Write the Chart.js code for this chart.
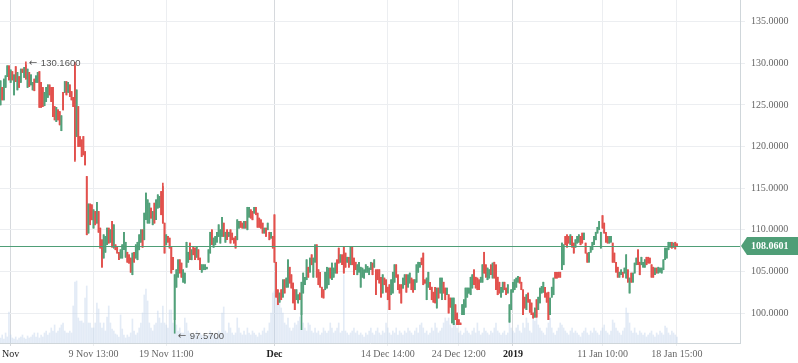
<!DOCTYPE html>
<html><head><meta charset="utf-8">
<script src="https://cdn.jsdelivr.net/npm/chart.js@4.4.1/dist/chart.umd.min.js"></script>
<style>html,body{margin:0;padding:0;background:#fff;}canvas{display:block;}</style>
</head><body>
<canvas id="c" width="798" height="363"></canvas>
<script>
const opens = [
125.0,127.1,125.6,127.1,128.4,129.7,127.7,129.0,126.2,129.6,126.8,128.4,127.7,129.3,128.3,129.8,127.1,128.9,127.4,126.8,
128.1,127.7,127.7,129.0,127.7,127.1,124.9,125.4,125.9,127.4,127.1,127.1,124.8,123.0,124.4,124.2,121.9,126.5,126.5,127.8,
126.5,127.4,126.6,125.9,129.7,121.2,124.8,121.2,120.8,121.2,119.4,116.4,109.6,113.1,113.0,110.2,112.2,110.8,112.2,110.2,
108.8,106.6,107.3,108.2,110.2,108.5,111.0,107.8,108.2,107.9,107.3,106.6,106.6,107.6,106.7,107.3,107.0,106.6,104.6,107.3,
106.6,106.4,107.6,108.5,110.0,108.8,111.2,110.8,110.8,112.6,110.6,113.2,111.2,112.6,112.7,114.6,115.2,110.8,108.2,109.2,
109.0,107.9,106.7,99.2,103.1,104.3,106.4,106.0,103.7,103.6,105.5,106.1,108.4,106.4,107.9,107.8,106.7,107.6,106.6,104.9,
105.2,105.2,105.3,106.1,107.2,110.0,107.9,108.2,108.5,109.2,108.4,109.2,110.8,108.5,110.0,109.2,110.0,109.6,109.0,109.2,
108.8,110.2,111.0,110.8,110.2,111.0,110.0,111.5,112.4,112.2,112.0,112.7,112.0,111.4,111.2,110.8,109.6,110.2,110.0,109.7,
109.0,109.2,111.8,106.1,102.8,101.3,102.8,101.9,104.0,103.1,103.1,105.5,104.6,103.6,102.8,101.6,101.2,102.4,99.8,102.4,
103.4,104.0,105.5,104.9,107.0,104.3,106.1,108.2,105.2,104.9,103.1,102.8,102.8,103.0,103.4,105.4,104.0,104.3,104.8,106.4,
107.8,106.1,107.0,107.9,107.2,106.1,106.7,105.8,107.9,106.6,106.1,104.6,104.9,103.1,104.3,104.2,104.9,104.9,104.6,105.2,
106.0,105.5,105.2,105.2,105.2,104.3,102.4,104.2,104.0,103.1,103.4,102.2,102.4,103.7,105.8,104.6,103.4,103.4,103.0,103.4,
104.6,103.1,103.6,104.2,104.0,102.8,103.7,104.9,105.5,106.6,107.2,104.0,101.6,103.1,103.7,103.1,102.5,103.1,100.6,103.0,
102.4,101.6,103.7,103.0,102.2,102.2,101.8,98.8,98.6,101.0,100.0,99.2,98.8,99.8,99.8,100.7,101.9,102.4,102.2,103.0,
105.2,104.3,104.2,104.0,103.7,103.7,107.3,105.8,104.0,104.2,105.8,104.2,106.1,105.8,104.3,103.7,101.9,102.5,103.7,103.0,
102.4,98.9,100.4,102.5,102.8,103.1,103.7,104.3,103.7,102.8,101.9,100.4,102.4,101.6,101.2,100.0,99.5,101.6,100.4,101.2,
102.4,102.5,103.1,102.4,102.5,99.8,101.9,102.2,104.9,104.9,104.9,104.9,105.2,105.8,109.2,109.4,109.2,108.2,109.2,108.4,
107.9,108.4,108.5,109.2,109.6,108.8,108.4,107.2,106.1,107.3,107.6,108.2,108.8,109.6,110.0,107.8,111.7,110.8,109.7,109.2,
108.4,108.5,108.4,107.2,106.1,105.5,104.3,104.6,104.9,104.8,104.2,105.2,102.4,104.8,103.7,104.8,105.8,107.6,106.1,105.8,
105.5,105.5,106.7,106.7,106.6,105.8,105.5,104.6,105.4,104.8,104.9,104.8,105.2,106.4,106.6,107.6,107.9,108.5,107.9,108.5,108.3
];
const highs = [
127.9,127.1,128.1,128.5,129.7,129.7,129.2,129.0,128.6,129.6,128.9,128.4,129.3,129.3,129.5,130.16,129.3,128.9,128.6,127.7,
128.1,128.5,128.9,129.0,127.7,127.1,126.5,127.1,127.4,127.4,127.1,127.1,124.8,124.7,124.4,124.2,123.7,126.5,127.8,127.8,
127.7,127.4,126.6,125.9,130.1,126.8,124.8,121.2,120.8,121.2,119.4,116.4,113.1,113.1,113.0,112.4,112.2,113.3,112.2,110.2,
108.8,109.4,109.2,110.2,110.2,110.0,111.0,110.6,108.2,107.9,107.3,107.6,108.2,109.7,108.5,107.3,107.0,106.6,107.2,107.3,
108.2,108.5,109.4,110.0,110.0,112.0,114.4,113.6,113.2,112.6,112.2,113.2,113.6,114.2,114.0,114.6,115.6,110.8,109.4,109.2,
109.0,107.9,106.7,104.6,105.2,106.4,106.4,106.0,105.2,104.8,108.5,107.3,108.4,107.6,107.9,107.8,107.9,107.6,106.6,105.8,
105.8,105.8,105.5,107.6,109.7,110.0,109.0,109.2,109.7,110.6,110.0,111.5,110.8,109.7,110.0,109.7,110.0,109.6,109.0,109.2,
111.2,111.0,111.0,110.8,111.0,111.0,112.7,112.7,112.4,112.2,112.7,112.7,112.0,111.4,111.2,110.8,110.2,110.2,110.8,109.7,
109.7,109.2,111.8,106.1,102.8,102.4,102.8,104.0,104.0,104.2,106.4,105.5,104.6,103.6,102.8,102.8,102.2,102.4,103.7,104.8,
104.3,106.4,105.5,106.6,107.0,106.6,108.2,108.2,105.2,104.9,103.1,102.8,104.9,105.5,105.4,105.4,106.0,105.4,106.0,106.4,
107.8,107.0,107.0,107.9,107.2,106.7,106.7,107.9,107.9,106.6,106.1,105.8,106.1,105.5,105.4,105.2,105.8,105.6,105.4,106.1,
106.0,106.4,105.2,105.2,105.2,104.3,104.6,104.2,104.0,103.1,103.4,104.0,104.9,105.8,105.8,104.6,103.4,103.4,104.2,104.6,
104.6,104.6,104.8,104.2,104.0,104.0,105.8,106.1,106.1,106.6,107.2,104.0,104.2,104.9,103.7,103.1,102.5,103.1,103.0,103.0,
104.2,104.2,103.7,103.0,103.0,102.2,101.8,101.8,101.8,101.0,100.0,99.2,98.8,101.0,101.6,103.0,103.0,103.0,104.3,104.6,
105.2,104.3,104.2,104.0,104.3,105.8,107.3,105.8,105.4,105.2,105.8,106.0,106.1,105.8,104.3,103.7,103.1,103.7,103.7,103.0,
103.4,101.0,102.8,103.7,104.0,104.2,104.4,104.3,103.7,102.8,101.9,102.2,102.4,101.6,101.2,100.0,100.6,101.6,101.9,103.0,
103.2,103.7,103.1,102.4,102.5,101.8,103.1,104.2,104.9,104.9,104.9,104.9,108.4,108.2,109.2,109.4,109.2,109.4,109.2,108.4,
108.8,109.2,109.4,109.2,109.6,109.6,108.4,107.2,107.3,107.9,108.5,109.2,109.7,110.3,111.0,109.7,111.7,110.8,109.7,109.2,
109.2,109.2,108.4,107.2,106.1,105.5,104.9,105.2,104.9,105.4,107.0,105.2,104.2,104.8,104.8,106.0,106.6,107.6,106.1,106.7,
106.1,106.4,106.7,106.7,106.6,105.8,105.5,105.4,105.4,105.5,105.4,105.4,106.4,107.8,107.8,108.5,108.5,108.5,108.4,108.5,108.3
];
const lows = [
125.0,125.6,125.6,127.1,128.4,128.0,127.7,128.0,126.2,127.8,126.8,127.1,127.7,128.9,128.3,128.1,127.1,127.2,127.4,126.8,
126.7,127.7,127.7,124.7,124.7,124.8,124.9,125.4,125.9,126.2,125.4,123.6,123.2,123.0,123.2,122.6,121.9,124.4,126.5,126.2,
126.5,126.0,125.6,124.8,118.2,121.2,120.0,120.0,118.8,119.0,117.8,109.4,109.6,110.6,111.2,110.2,110.6,110.8,109.7,107.8,
105.5,106.6,107.3,108.2,108.4,108.5,107.9,107.8,107.6,107.2,106.4,106.6,106.6,107.6,106.7,106.1,106.0,104.9,104.6,106.1,
106.6,106.4,107.6,108.5,107.9,108.8,111.2,110.8,110.8,111.4,110.6,110.8,111.2,112.6,112.7,111.8,110.8,107.2,108.2,108.5,
107.8,104.8,105.2,97.57,103.1,104.3,104.8,104.3,103.7,103.6,105.5,106.1,106.4,106.4,107.0,106.4,106.7,106.4,105.2,104.9,
105.2,105.2,105.3,106.1,107.2,108.2,107.9,108.2,108.5,109.2,108.4,109.2,109.2,108.5,108.8,109.2,108.4,108.8,108.4,107.8,
108.8,110.2,110.3,110.2,110.2,110.2,110.0,111.5,111.4,111.2,112.0,111.8,110.3,110.3,110.2,109.6,109.6,109.2,110.0,108.8,
109.0,107.8,106.1,101.9,101.0,101.3,101.6,101.9,102.4,103.1,103.1,103.6,103.0,101.2,100.4,101.6,101.2,101.6,98.0,102.4,
103.4,104.0,104.3,104.9,105.8,104.3,106.1,104.3,103.4,103.1,101.9,101.8,102.8,103.0,103.4,104.2,104.0,104.3,104.8,104.8,
106.0,106.1,105.8,104.8,105.5,106.1,105.5,105.8,105.8,104.6,105.2,104.6,104.9,103.1,104.3,104.2,104.9,104.9,104.6,105.2,
104.6,105.5,102.2,104.0,103.6,101.9,102.4,103.4,102.5,101.6,100.4,102.2,102.4,103.7,104.3,102.8,102.4,101.2,103.0,103.4,
102.5,103.1,103.6,102.8,102.5,102.8,103.7,104.9,105.5,105.8,103.4,103.6,101.6,103.1,102.8,101.6,101.3,101.2,100.6,101.8,
102.4,101.6,102.4,101.6,102.2,100.0,100.7,98.8,98.6,99.2,98.6,98.6,98.6,99.8,99.8,100.7,101.9,102.4,102.2,103.0,
103.4,103.0,102.8,102.8,103.7,103.7,104.8,104.3,104.0,104.2,104.6,104.2,104.2,102.8,102.2,102.4,101.9,102.5,102.8,102.2,
102.4,98.9,100.4,102.5,102.8,103.1,103.7,103.6,102.8,99.8,100.6,100.4,101.3,100.1,99.8,99.4,99.5,99.5,100.4,101.2,
102.4,102.5,101.9,101.3,99.2,99.8,101.9,102.2,104.2,104.2,104.3,104.3,105.2,105.8,108.2,107.9,108.4,108.2,107.9,107.2,
107.9,108.4,108.5,108.2,108.4,108.8,107.2,106.1,106.1,107.3,107.6,108.2,108.8,109.6,110.0,107.8,110.2,109.6,108.5,108.4,
108.4,108.5,106.1,106.1,104.9,104.3,104.3,104.6,104.3,104.8,104.2,103.7,102.4,103.7,103.7,104.8,105.8,105.8,104.6,105.8,
105.5,105.5,105.8,106.0,106.0,104.3,104.3,104.6,104.8,104.8,104.9,104.8,105.2,106.4,106.6,107.6,107.9,107.8,107.9,107.7,108.06
];
const closes = [
127.9,125.6,128.1,128.5,129.7,128.0,129.2,128.0,128.6,127.8,128.9,127.1,129.3,128.9,129.5,128.1,129.3,127.2,128.6,127.7,
126.7,128.5,128.9,124.7,124.7,124.8,126.5,127.1,127.4,126.2,125.4,123.6,123.2,124.7,123.2,122.6,123.7,124.4,127.8,126.2,
127.7,126.0,125.6,124.8,118.4,126.8,120.0,120.0,118.8,119.0,117.8,109.4,113.1,110.6,111.2,112.4,110.6,113.3,109.7,107.8,
105.5,109.4,109.2,110.2,108.4,110.0,107.9,110.6,107.6,107.2,106.4,107.6,108.2,109.7,108.5,106.1,106.0,104.9,107.2,106.1,
108.2,108.5,109.4,110.0,107.9,112.0,114.4,113.6,113.2,111.4,112.2,110.8,113.6,114.2,114.0,111.8,110.8,107.2,109.4,108.5,
107.8,104.8,105.2,104.6,105.2,106.4,104.8,104.3,105.2,104.8,108.5,107.3,106.4,107.6,107.0,106.4,107.9,106.4,105.2,105.8,
105.8,105.8,105.5,107.6,109.7,108.2,109.0,109.2,109.7,110.6,110.0,111.5,109.2,109.7,108.8,109.7,108.4,108.8,108.4,107.8,
111.2,111.0,110.3,110.2,111.0,110.2,112.7,112.7,111.4,111.2,112.7,111.8,110.3,110.3,110.2,109.6,110.2,109.2,110.8,108.8,
109.7,107.8,106.1,101.9,101.0,102.4,101.6,104.0,102.4,104.2,106.4,103.6,103.0,101.2,100.4,102.8,102.2,101.6,103.7,104.8,
104.3,106.4,104.3,106.6,105.8,106.6,108.2,104.3,103.4,103.1,101.9,101.8,104.9,105.5,105.4,104.2,106.0,105.4,106.0,104.8,
106.0,107.0,105.8,104.8,105.5,106.7,105.5,107.9,105.8,104.6,105.2,105.8,106.1,105.5,105.4,105.2,105.8,105.6,105.4,106.1,
104.6,106.4,102.2,104.0,103.6,101.9,104.6,103.4,102.5,101.6,100.4,104.0,104.9,105.8,104.3,102.8,102.4,101.2,104.2,104.6,
102.5,104.6,104.8,102.8,102.5,104.0,105.8,106.1,106.1,105.8,103.4,103.6,104.2,104.9,102.8,101.6,101.3,101.2,103.0,101.8,
104.2,104.2,102.4,101.6,103.0,100.0,100.7,101.8,101.8,99.2,98.6,98.6,98.6,101.0,101.6,103.0,103.0,103.0,104.3,104.6,
103.4,103.0,102.8,102.8,104.3,105.8,104.8,104.3,105.4,105.2,104.6,106.0,104.2,102.8,102.2,102.4,103.1,103.7,102.8,102.2,
103.4,101.0,102.8,103.7,104.0,104.2,104.4,103.6,102.8,99.8,100.6,102.2,101.3,100.1,99.8,99.4,100.6,99.5,101.9,103.0,
103.2,103.7,101.9,101.3,99.2,101.8,103.1,104.2,104.2,104.2,104.3,104.3,108.4,108.2,108.2,107.9,108.4,109.4,107.9,107.2,
108.8,109.2,109.4,108.2,108.4,109.6,107.2,106.1,107.3,107.9,108.5,109.2,109.7,110.3,111.0,109.7,110.2,109.6,108.5,108.4,
109.2,109.2,106.1,106.1,104.9,104.3,104.9,105.2,104.3,105.4,107.0,103.7,104.2,103.7,104.8,106.0,106.6,105.8,104.6,106.7,
106.1,106.4,105.8,106.0,106.0,104.3,104.3,105.4,104.8,105.5,105.4,105.4,106.4,107.8,107.8,108.5,108.5,107.8,108.4,107.7,108.06
];
const volumes = [
5,8,4,10,6,31,8,5,4,6,3,5,6,8,5,4,7,5,6,8,
10,6,10,5,8,6,10,12,8,10,15,12,18,10,12,15,18,20,12,10,
10,12,10,37,61,62,25,22,22,20,45,57,20,20,15,15,20,40,34,20,
15,20,12,26,37,20,14,12,9,8,6,28,14,8,5,8,6,10,24,12,
8,10,15,20,30,48,54,42,20,15,12,18,20,32,25,20,37,20,18,15,
33,33,20,25,18,12,15,10,10,25,20,12,10,8,10,8,12,6,10,8,
6,8,5,8,12,10,8,10,6,12,10,30,36,12,10,20,15,10,8,10,
25,15,10,8,12,8,15,10,8,12,10,8,6,10,8,12,15,10,12,20,
30,50,52,45,47,45,35,30,20,18,25,15,12,15,20,18,22,26,30,20,
15,12,20,18,12,10,15,10,12,8,10,15,12,10,12,20,15,10,12,15,
20,10,12,68,12,10,8,10,12,15,10,12,8,10,8,6,10,8,12,15,
10,8,12,15,10,8,12,10,20,15,10,8,12,10,15,8,12,10,8,12,
10,15,12,10,8,12,15,10,18,20,15,10,12,8,10,15,12,20,15,10,
12,15,20,25,22,25,18,15,30,20,15,10,12,8,10,15,12,10,8,12,
15,10,20,12,8,10,15,12,10,8,12,10,15,20,12,10,8,10,12,8,
10,25,15,12,10,15,18,12,10,20,15,25,20,12,10,31,22,25,18,15,
12,10,8,15,20,25,15,10,8,12,15,20,18,15,12,10,8,12,15,10,
12,10,8,6,10,12,15,10,8,12,10,15,12,10,8,12,15,18,12,10,
8,12,23,20,15,12,10,8,12,15,35,30,20,12,10,15,10,8,12,10,
8,10,6,8,10,12,8,6,10,8,12,10,8,17,15,10,8,12,10,8,6
];
const tickIndex = [6, 55, 98, 162, 229, 271, 303, 356, 400];
const tickLabels = ['Nov', '9 Nov 13:00', '19 Nov 11:00', 'Dec', '14 Dec 14:00', '24 Dec 12:00', '2019', '11 Jan 10:00', '18 Jan 15:00'];
const majorLabels = ['Nov', 'Dec', '2019'];
const priceTicks = [100, 105, 110, 115, 120, 125, 130, 135];
const lastPrice = 108.0601;

const UP = '#52a17a', DOWN = '#e2514d', LINE = '#4f9e77';
const n = opens.length;
const idx = Array.from({length: n}, (_, i) => i);
const candleColors = idx.map(i => closes[i] >= opens[i] ? UP : DOWN);
const isMajor = i => majorLabels.includes(tickLabels[i]);

const overlay = {
  id: 'overlay',
  afterDatasetsDraw(chart) {
    const {ctx, chartArea: a, scales: {x, y}} = chart;
    const py = Math.round(y.getPixelForValue(lastPrice)) + 0.5;
    ctx.save();
    ctx.strokeStyle = LINE; ctx.lineWidth = 1;
    ctx.beginPath(); ctx.moveTo(a.left, py); ctx.lineTo(a.right, py); ctx.stroke();
    const hiVal = Math.max(...highs), loVal = Math.min(...lows);
    const hi = highs.indexOf(hiVal), lo = lows.indexOf(loVal);
    const marks = [[hi, hiVal, 1], [lo, loVal, 3]];
    ctx.fillStyle = '#555'; ctx.textBaseline = 'middle'; ctx.textAlign = 'left';
    for (const [i, val, dy] of marks) {
      const tx = x.getPixelForValue(i) + 3, ty = y.getPixelForValue(val) + dy;
      ctx.font = '10px "DejaVu Sans", sans-serif';
      ctx.fillText('\u2190', tx, ty);
      ctx.font = '9.5px "Liberation Sans", sans-serif';
      ctx.fillText(val.toFixed(4), tx + 12, ty);
    }
    ctx.restore();
  },
  afterDraw(chart) {
    const {ctx, chartArea: a, scales: {y}} = chart;
    const py = Math.round(y.getPixelForValue(lastPrice));
    const L = a.right + 1, R = chart.width, h = 9;
    ctx.save();
    ctx.fillStyle = LINE;
    ctx.beginPath();
    ctx.moveTo(L, py);
    ctx.lineTo(L + 6, py - h);
    ctx.lineTo(R, py - h);
    ctx.lineTo(R, py + h);
    ctx.lineTo(L + 6, py + h);
    ctx.closePath(); ctx.fill();
    ctx.fillStyle = '#fff'; ctx.textBaseline = 'middle'; ctx.textAlign = 'left';
    ctx.font = 'bold 10px "Liberation Serif", serif';
    ctx.fillText(lastPrice.toFixed(4), a.right + 11, py + 0.5);
    ctx.restore();
  }
};

new Chart(document.getElementById('c'), {
  type: 'bar',
  data: {
    datasets: [
      {
        label: 'body', order: 1, grouped: false, yAxisID: 'y',
        data: idx.map(i => ({x: i, y: [opens[i], closes[i]]})),
        backgroundColor: candleColors, barThickness: 1.1, minBarLength: 1, borderWidth: 0
      },
      {
        label: 'wick', order: 2, grouped: false, yAxisID: 'y',
        data: idx.map(i => ({x: i, y: [lows[i], highs[i]]})),
        backgroundColor: candleColors, barThickness: 1, minBarLength: 1, borderWidth: 0
      },
      {
        label: 'volume', order: 3, grouped: false, yAxisID: 'v',
        data: idx.map(i => ({x: i, y: volumes[i]})),
        backgroundColor: 'rgba(192,210,236,0.45)', barThickness: 1, borderWidth: 0
      }
    ]
  },
  options: {
    responsive: false, animation: false,
    layout: {padding: 0},
    plugins: {legend: {display: false}, tooltip: {enabled: false}},
    scales: {
      x: {
        type: 'linear', min: -0.3, max: 437.3, offset: false,
        afterBuildTicks: s => { s.ticks = tickIndex.map(v => ({value: v})); },
        afterFit: s => { s.height = 20; s.paddingLeft = 0; s.paddingRight = 0; },
        grid: {offset: false, color: c => isMajor(c.index) ? '#d6d9dd' : '#eceef1', tickLength: 3},
        border: {color: '#cfd6da'},
        ticks: {
          autoSkip: false, maxRotation: 0, padding: 2,
          callback: (v, i) => tickLabels[i],
          font: c => ({family: '"Liberation Serif", serif', size: 10,
                       weight: (tickLabels[c.index] === 'Dec' || tickLabels[c.index] === '2019') ? 'bold' : 'normal'}),
          color: c => isMajor(c.index) ? '#222' : '#666'
        }
      },
      y: {
        position: 'right', min: 96.4, max: 137.6,
        afterBuildTicks: s => { s.ticks = priceTicks.map(v => ({value: v})); },
        afterFit: s => { s.width = 58; s.paddingTop = 0; s.paddingBottom = 0; },
        grid: {color: '#eceef1', tickLength: 5},
        border: {color: '#cfd6da'},
        ticks: {
          padding: 6, color: '#666',
          font: {family: '"Liberation Serif", serif', size: 10},
          callback: v => Number(v).toFixed(4)
        }
      },
      v: {display: false, min: 0, max: 343}
    }
  },
  plugins: [overlay]
});
</script>
</body></html>
